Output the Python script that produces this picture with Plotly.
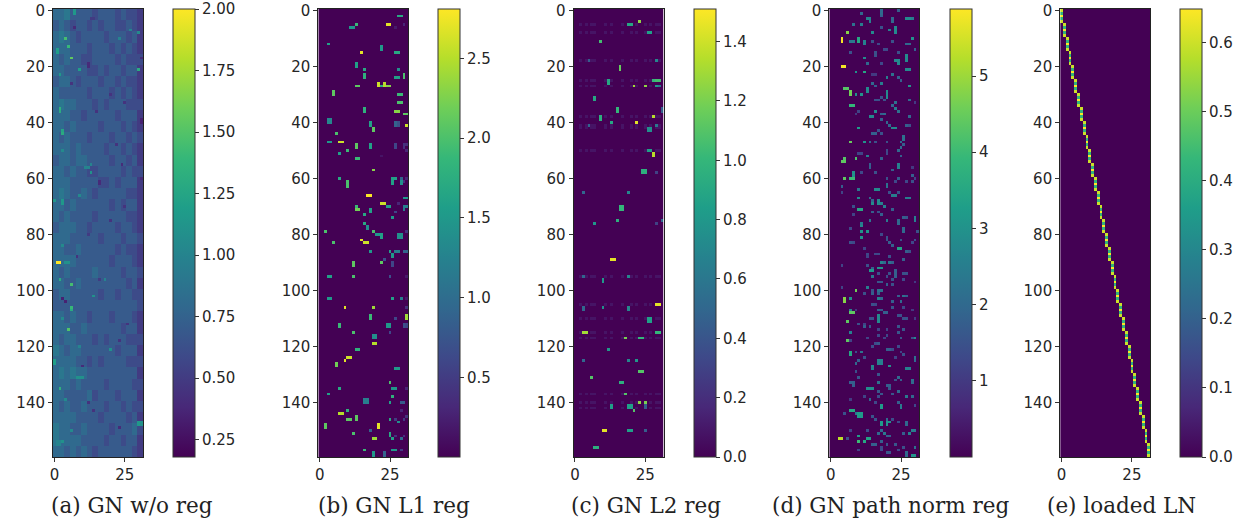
import plotly.graph_objects as go

W, H = 1255, 523
N_ROWS, N_COLS = 160, 32

# Panel (a): coarse read-off, each entry = mean of a 4x2 cell block, in tenths
A_BLOCKS = [
 [8,8,9,7,7,7,7,6,7,7,7,6,7,6,6,5],
 [7,8,7,6,7,7,6,7,6,7,7,6,6,7,6,5],
 [8,9,8,7,6,7,7,7,7,6,7,7,7,6,7,5],
 [8,8,8,7,7,7,6,7,7,7,6,7,6,7,6,5],
 [8,7,8,7,7,6,6,7,7,7,7,6,7,6,6,6],
 [8,8,7,7,7,7,6,6,7,6,7,7,6,7,7,5],
 [7,8,8,7,6,7,7,7,6,7,7,6,7,6,6,5],
 [8,7,7,7,7,7,6,7,7,7,6,7,6,7,6,5],
 [8,9,8,8,7,7,7,6,7,6,7,7,7,6,6,6],
 [8,8,8,7,7,6,7,7,7,7,7,6,7,7,7,5],
 [8,8,7,8,7,7,7,7,6,7,7,7,6,7,6,5],
 [8,7,8,7,7,7,6,7,7,7,6,7,7,6,7,6],
 [8,8,8,7,8,7,7,7,7,6,7,7,6,7,6,5],
 [7,8,8,7,8,8,7,7,7,7,6,7,7,6,7,5],
 [8,8,7,8,7,7,6,6,7,7,7,7,6,7,6,6],
 [8,8,8,7,7,7,7,7,6,6,7,6,7,7,7,5],
 [8,9,8,7,7,8,7,6,7,7,7,7,7,6,6,5],
 [8,8,7,8,7,7,7,7,7,7,6,7,6,7,7,5],
 [8,7,8,7,7,7,7,6,7,7,7,7,7,6,6,5],
 [7,8,8,8,7,7,6,7,7,7,7,6,7,7,6,5],
 [8,8,8,7,7,7,7,7,6,7,7,7,6,7,7,6],
 [8,8,7,7,8,7,7,7,7,7,7,6,7,6,6,5],
 [8,8,8,8,7,7,7,7,7,7,6,7,7,7,6,5],
 [8,7,8,7,7,7,7,8,7,7,7,7,6,7,7,6],
 [8,8,7,7,8,7,7,7,7,7,7,7,7,6,7,5],
 [7,8,8,7,7,7,7,7,6,7,7,6,7,7,6,6],
 [7,7,7,7,7,7,7,7,7,7,7,7,7,7,7,6],
 [8,8,7,8,7,7,6,7,7,7,6,7,7,7,6,5],
 [8,8,8,7,7,8,7,7,7,7,7,7,6,7,7,5],
 [8,7,8,8,7,7,7,6,7,6,7,7,7,6,6,6],
 [9,8,7,8,8,7,7,7,7,7,7,6,7,7,7,5],
 [8,8,8,8,7,7,6,7,6,7,7,7,7,6,6,6],
 [8,9,8,9,8,8,7,7,7,7,7,7,7,7,7,5],
 [8,8,8,7,8,7,7,7,7,6,7,7,7,7,6,6],
 [8,8,7,7,7,7,8,6,7,7,7,6,7,7,7,5],
 [8,7,8,7,7,8,7,7,7,6,7,7,6,7,6,6],
 [8,8,8,8,7,7,7,7,6,7,7,7,7,6,7,5],
 [9,8,8,7,7,8,7,7,7,7,6,7,7,7,8,6],
 [9,8,8,8,8,7,7,7,7,6,7,7,6,7,7,5],
 [8,8,7,8,7,8,7,6,7,7,7,7,7,7,6,5],
]
A_CELLS = [(90,1,2.0),(90,2,2.0),(10,4,1.45),(13,5,1.4),(17,6,1.55),(21,30,1.3),(35,2,1.35),(36,2,1.3),
 (44,3,1.3),(43,3,1.25),(0,7,1.15),(1,7,1.15),(14,1,1.2),(15,1,1.2),(23,2,1.15),(8,30,1.05),(7,27,1.0),(10,23,1.0),
 (68,0,1.15),(68,3,1.15),(69,3,1.15),(56,11,1.0),(56,12,1.0),(55,13,1.0),(58,13,1.1),(21,9,1.2),
 (6,7,.4),(19,12,.4),(20,12,.4),(61,16,.4),(62,16,.4),(55,24,.4),(17,31,.4),(39,31,.35),(40,31,.35),(60,31,.4),
 (36,15,.45),(48,22,.45),(3,13,.5),(3,14,.5),
 (90,4,1.1),(90,5,1.1),(96,2,1.3),(98,6,1.45),(106,6,1.4),(107,6,1.3),(114,5,1.5),(135,2,1.35),(125,0,1.2),(126,0,1.2),
 (103,3,.35),(104,4,.35),(131,8,1.1),(131,9,1.1),(131,10,1.1),(147,30,1.15),(148,30,1.15),(147,31,1.1),(148,31,1.1),
 (154,1,1.0),(155,1,1.0),(154,2,1.0),(155,2,1.0),(154,3,1.1),(102,14,1.1),(96,18,1.0),(121,20,1.1),(120,9,1.0),
 (127,10,.4),(149,23,.4),(143,14,.45),(96,16,.5),(80,12,.5),(75,20,.45),(112,26,.45),(88,8,.45),(30,20,.45),(26,6,.45),
 (33,25,.45),(70,25,.45),(140,12,.45),(118,23,.45),(50,3,1.05),(66,9,1.05),(84,3,1.05),(110,3,1.05),(139,4,1.05),(150,6,1.05)]

B_CELLS = [(2,28,1.7),(2,29,1.7),(5,24,2.7),(5,25,2.7),(5,30,.3),(6,11,1.5),(6,12,1.5),(5,13,1.9),(6,27,.2),
 (12,3,1.6),(15,15,2.7),(13,22,1.5),(14,22,1.5),(15,27,1.7),(15,28,1.7),(19,13,1.6),(20,13,1.6),
 (21,16,1.7),(23,16,1.8),(24,16,1.8),(21,28,1.4),(24,27,1.6),(24,28,1.6),(23,30,2.0),(24,30,2.0),
 (26,21,2.6),(27,21,2.6),(26,23,2.5),(27,23,2.5),(27,22,1.8),(27,24,2.3),(27,25,2.3),(27,14,2.1),(27,13,2.1),
 (29,5,2.1),(30,5,2.1),(30,28,1.9),(30,29,1.9),(33,28,2.0),(33,29,2.0),(35,16,1.8),(36,16,1.8),
 (36,27,2.3),(36,28,2.3),(37,30,2.1),(37,31,2.1),(41,31,2.6),
 (39,4,1.3),(40,4,1.3),(39,3,1.3),(40,3,1.3),(41,18,1.6),(40,18,1.6),(42,19,2.1),(43,19,2.1),
 (40,27,.9),(41,27,.9),(40,28,.7),(41,28,.7),(44,6,2.0),(47,3,1.5),(47,4,1.5),(47,8,2.6),(47,7,2.6),
 (48,13,2.1),(49,13,2.1),(48,18,1.6),(49,18,1.6),(50,10,1.9),(51,7,1.6),(53,14,1.9),(53,13,1.9),
 (48,27,.6),(49,27,.6),(48,30,.4),(49,30,.4),(48,31,.35),(50,31,.3),(52,22,.15),
 (57,19,2.3),(60,7,1.7),(61,10,2.0),(62,10,2.0),(63,10,2.0),(60,26,1.6),(60,27,1.6),(60,29,.9),(60,31,.3),(61,30,.4),
 (61,26,1.6),(62,26,1.6),(62,29,1.4),(61,29,1.4),(66,17,2.8),(66,18,2.8),(67,30,1.5),(67,31,1.5),
 (69,22,2.6),(69,23,2.6),(70,24,1.6),(70,25,1.6),(70,13,1.9),(71,14,2.2),(71,13,2.2),(70,30,1.2),(71,30,1.2),(70,31,1.2),
 (71,18,1.6),(72,18,1.6),(72,27,.6),(73,16,1.7),(74,26,1.5),(76,16,1.7),(77,17,1.4),(78,17,1.4),(69,28,.3),
 (79,2,2.0),(79,19,2.0),(80,20,1.5),(80,21,1.5),(81,22,1.6),(80,22,1.6),(80,28,1.4),(80,29,1.4),(81,28,1.4),(81,29,1.4),(79,31,.4),
 (82,15,2.7),(83,17,2.6),(83,16,2.6),(83,5,2.0),(86,18,1.5),(86,25,1.6),(86,27,1.2),(86,28,1.2),(86,30,.9),(86,31,.9),
 (88,26,1.5),(87,26,1.5),(90,22,2.1),(89,23,.7),(91,26,.6),(90,26,.6),(91,12,2.1),(90,12,2.1),
 (95,4,1.6),(95,3,1.6),(95,12,2.0),(95,25,.7),(95,31,.2),(103,4,1.5),(103,3,1.5),(103,26,1.6),(103,29,1.2),(103,31,.2),
 (106,9,2.7),(106,19,2.4),(106,31,.4),(109,18,1.9),(110,18,1.9),(109,31,2.4),(110,31,2.4),(110,27,.6),
 (112,7,1.9),(113,7,1.9),(112,24,1.5),(113,24,1.5),(112,25,1.5),(113,25,1.5),(112,30,.7),(113,30,.7),(112,31,.6),(113,31,.6),
 (115,12,2.0),(115,25,.6),(116,20,1.4),(117,20,1.4),(116,19,1.4),(117,19,1.4),(119,20,2.5),(119,19,2.5),(121,14,1.8),(121,13,1.8),
 (124,11,2.6),(124,10,2.6),(125,9,2.7),(126,6,2.2),(127,6,2.2),(128,28,1.5),(128,27,1.5),(133,25,2.0),(135,7,1.7),
 (135,27,1.5),(135,26,1.5),(135,31,.3),(137,3,1.6),(138,26,1.8),(139,17,1.2),(140,17,1.2),(139,16,1.2),(140,16,1.2),
 (140,25,1.6),(140,30,.8),(140,29,.8),(143,10,1.8),(144,8,2.5),(144,7,2.5),(145,13,2.1),(146,13,2.1),(146,11,2.1),(146,10,2.1),
 (146,25,1.7),(147,28,1.4),(146,27,.5),(146,30,.5),(145,31,.4),(143,29,.3),(148,2,2.1),(149,2,2.1),(148,21,2.7),(149,21,2.7),
 (151,12,2.0),(150,18,.9),(151,25,1.7),(152,25,1.7),(153,20,2.4),(153,19,2.4),(153,26,1.6),(153,29,1.0),(152,27,.4),(152,30,.4),
 (157,16,1.9),(158,19,1.5),(159,19,1.5),(158,23,.9),(159,23,.9),(157,27,1.5),(157,26,1.5),(157,29,.5)]

C_BAND_ROWS = [5,8,18,25,27,38,41,42,50,95,105,110,115,117,137,140,142]
C_BAND_COLS = [2,4,6,7,11,13,17,20,22,25,27,29,30]
C_CELLS = [(5,20,.9),(5,19,.9),(4,23,1.25),(8,26,.85),(8,27,.85),(11,9,1.05),(18,5,.45),(18,29,.7),(20,16,1.15),(21,16,1.15),
 (25,29,1.05),(25,30,1.05),(25,28,1.0),(26,12,.9),(25,12,.9),(27,21,1.3),(27,25,1.25),(27,29,.8),(27,30,.6),(32,7,.9),(31,7,.9),
 (36,15,1.0),(35,15,1.0),(36,31,.45),(35,31,.45),(38,28,1.35),(39,9,.95),(38,9,.95),(40,13,.9),(40,22,1.45),(41,5,.5),(41,29,.6),
 (42,26,.75),(42,27,.75),(43,26,.75),(43,27,.75),(50,26,.85),(50,27,.85),(51,28,1.35),(52,28,1.35),(58,24,.95),(58,25,.95),(57,24,.95),(57,25,.95),
 (58,29,.3),(65,3,.5),(65,19,.7),(71,17,1.0),(71,16,1.0),(70,17,1.0),(70,16,1.0),(75,15,.95),(75,31,.5),(76,7,.8),(76,29,.3),
 (89,13,1.45),(89,14,1.45),(95,3,.5),(95,19,.7),(96,10,.8),(97,10,.8),(105,30,1.45),(105,29,1.45),(106,10,.75),(106,3,.5),(107,3,.5),
 (106,19,.7),(107,19,.7),(110,26,.85),(110,27,.85),(111,26,.85),(111,27,.85),(115,4,1.3),(115,3,1.3),(115,29,1.0),(115,30,1.0),
 (117,18,1.2),(117,24,1.0),(117,23,1.0),(121,12,.8),(125,3,.5),(125,19,.7),(125,22,.8),(131,6,1.1),(129,24,1.1),(129,23,1.1),
 (133,17,.95),(133,16,.95),(137,18,1.1),(140,23,1.25),(140,25,1.2),(141,13,.85),(142,13,.85),(141,20,.85),(142,20,.85),(141,19,.85),(142,19,.85),
 (143,21,1.1),(141,25,.45),(142,25,.45),(150,11,1.45),(150,10,1.45),(150,20,.85),(150,19,.85),(150,25,.45),(156,8,.95),(156,7,.95)]

D_CELLS = [(10,4,5.8),(11,4,5.8),(20,4,5.8),(20,5,5.8),(8,6,4.8),(28,5,4.3),(28,6,4.3),(29,7,4.6),(30,7,4.6),(34,8,3.9),(34,7,3.9),
 (47,7,4.5),(54,4,4.4),(54,5,4.4),(53,5,4.3),(53,9,4.2),(60,5,4.4),(58,8,3.0),(59,8,3.0),(60,8,4.0),(60,7,4.0),
 (1,11,2.0),(0,18,2.0),(1,18,2.0),(2,18,1.8),(0,24,1.8),(3,14,2.6),(4,14,2.6),(3,13,2.6),(3,22,2.0),(4,22,2.0),(3,27,2.8),(3,28,2.8),(3,29,2.5),
 (5,8,2.2),(5,11,2.5),(6,18,1.5),(6,23,2.8),(7,23,2.8),(8,23,2.8),(7,21,2.6),(8,15,2.8),(10,10,3.5),(11,10,3.5),(11,8,2.4),(11,7,2.4),
 (11,12,2.6),(12,12,2.6),(10,29,3.0),(11,22,1.5),(12,28,2.0),(12,27,2.0),(11,15,1.5),(12,17,1.3),(15,7,1.5),(15,16,1.5),(14,20,1.3),(14,19,1.3),
 (15,24,1.5),(14,30,1.8),(16,27,2.8),(17,27,2.8),(18,27,2.8),(17,12,2.8),(16,16,1.5),(18,23,2.8),(18,24,2.8),(19,24,2.8),(19,13,2.0),(19,18,1.3),
 (21,27,2.8),(21,28,2.8),(22,12,3.5),(22,9,3.0),(23,15,1.0),(23,16,1.0),(24,20,2.5),(23,22,2.2),(24,24,1.8),(25,25,1.8),(26,18,2.5),(26,15,2.0),
 (27,28,3.0),(28,13,2.8),(29,13,2.8),(29,20,2.8),(30,20,2.8),(31,20,2.8),(30,9,3.0),(30,11,3.0),(27,16,1.8),(32,28,2.0),(31,18,1.5),(32,16,1.5),(32,17,1.5),(32,19,1.5),
 (33,23,2.2),(34,22,2.0),(35,23,2.5),(36,16,2.8),(36,24,2.2),(37,19,2.0),(38,14,2.8),(38,15,2.8),(37,18,1.8),(39,18,1.8),(38,28,2.0),(37,9,1.0),(36,10,1.2),(33,30,1.0),
 (40,20,2.0),(41,21,2.0),(42,10,3.2),(42,22,2.8),(42,23,2.8),(41,27,1.8),(41,28,1.5),(44,15,1.8),(44,16,1.8),(43,17,1.5),(44,18,1.5),(45,26,2.2),(46,26,2.2),(47,25,2.0),
 (47,12,3.0),(47,14,2.0),(47,16,1.5),(47,20,1.5),(48,26,1.8),(49,25,2.0),(50,24,2.0),(50,20,1.3),(51,20,1.3),(51,10,1.2),(51,11,1.2),(52,13,2.5),(52,25,1.8),(53,18,1.8),
 (55,14,1.8),(56,14,1.8),(55,24,2.6),(56,24,2.6),(56,29,1.0),(58,11,1.3),(58,16,1.5),(57,22,1.8),(60,20,1.5),(60,24,1.8),(61,23,1.3),(61,27,1.3),(59,29,1.8),(60,30,1.2),(61,29,1.5),
 (62,20,2.2),(63,20,2.2),(63,4,1.8),(65,4,1.2),(64,10,2.3),(64,16,2.8),(64,17,2.8),(65,21,1.5),(65,24,1.5),(66,22,2.5),(66,23,2.5),(67,10,2.8),(67,14,2.0),(67,27,2.5),(67,28,2.5),
 (68,15,2.0),(69,15,2.8),(68,17,2.8),(69,17,2.8),(69,18,2.6),(70,19,2.6),(71,11,3.5),(71,10,3.5),(72,15,1.8),(72,17,1.5),(73,18,1.8),(71,22,1.8),(70,8,1.5),(73,8,1.2),
 (75,20,2.4),(75,24,2.0),(76,24,2.0),(74,26,1.8),(74,30,2.6),(75,30,2.6),(74,27,1.6),(75,14,2.3),(76,11,2.5),(77,11,2.8),(78,7,1.3),(79,11,3.0),(79,13,3.0),(78,26,2.0),(79,26,2.0),(79,31,1.5),
 (81,11,3.0),(80,18,1.3),(81,20,1.5),(82,20,1.5),(83,21,1.8),(83,7,1.5),(83,8,1.3),(82,25,1.5),(83,29,1.3),(82,30,1.5),(85,24,3.4),(85,25,3.4),(85,12,1.2),(84,22,1.8),(86,27,1.8),(86,28,1.5),
 (87,13,1.3),(87,16,1.3),(87,17,1.3),(88,13,1.2),(88,21,1.5),(89,26,1.8),(90,18,2.6),(90,19,2.0),(90,21,2.2),(91,4,1.2),(90,22,1.8),(91,13,1.5),(92,15,1.8),(92,17,3.0),(92,18,3.0),
 (93,14,3.2),(93,15,3.2),(94,17,1.5),(94,21,1.5),(93,23,1.8),(94,23,1.8),(95,23,1.8),(94,26,1.5),(94,27,1.5),(95,15,2.4),(95,20,1.4),(96,22,1.5),(96,26,1.3),(97,17,1.6),(97,18,1.6),(97,30,1.0),
 (98,20,1.8),(98,22,1.5),(99,13,2.5),(99,4,1.2),(100,15,1.6),(100,17,2.2),(100,18,2.2),(100,9,4.6),(101,15,1.8),(101,12,1.5),(101,17,1.8),(102,24,1.8),(102,26,2.2),(103,17,2.6),(103,18,2.0),(102,27,1.8),
 (103,5,4.8),(104,5,4.8),(103,7,3.0),(104,25,2.0),(104,22,1.8),(105,15,1.5),(105,16,1.3),(106,22,1.6),(106,26,1.3),(107,9,1.0),(107,29,1.0),(107,7,2.6),(107,17,1.8),(107,18,1.6),
 (108,8,4.4),(108,7,4.4),(108,19,1.8),(108,20,1.8),(109,24,1.5),(109,25,1.5),(110,15,1.5),(110,14,1.5),(109,17,2.8),(110,17,2.8),(111,17,2.8),(110,26,1.5),(110,27,1.5),(110,30,1.0),(111,6,4.4),
 (112,10,1.5),(112,12,1.2),(113,14,1.6),(113,12,1.8),(113,24,1.6),(114,20,1.2),(114,17,1.2),(114,26,1.6),(115,7,2.6),(115,24,1.6),(116,17,1.3),(116,20,1.3),(117,13,1.2),(117,19,1.2),(117,25,1.6),
 (117,30,2.8),(117,29,1.5),(118,6,4.4),(118,7,1.2),(119,17,1.6),(119,16,1.4),(120,15,1.4),(120,24,1.4),(121,20,1.8),(121,21,1.8),(121,22,1.4),(122,7,3.5),(123,7,3.5),(122,9,1.5),(122,11,2.2),(123,26,1.5),
 (122,25,1.2),(124,12,1.5),(124,23,1.2),(124,30,2.2),(125,30,2.0),(125,17,2.6),(125,18,2.6),(126,17,2.6),(126,18,2.6),(125,10,1.8),(126,9,2.0),(127,15,2.8),(127,21,3.0),(128,15,2.6),(129,9,1.5),(128,27,2.6),(128,28,2.6),
 (130,17,1.6),(131,10,1.6),(131,24,2.0),(132,23,1.5),(132,25,1.8),(132,29,2.2),(133,29,2.0),(133,7,1.8),(133,8,1.8),(134,8,1.8),(133,17,2.2),(134,20,1.8),(134,21,1.8),(135,21,1.6),
 (135,13,2.9),(135,14,2.9),(135,15,2.9),(136,17,1.6),(136,24,2.0),(137,18,1.6),(137,22,1.6),(138,12,1.2),(138,17,1.4),(138,27,2.4),(138,29,2.0),(139,14,2.0),(139,7,1.0),(140,16,1.3),(140,24,1.8),(141,18,3.2),(142,18,3.2),
 (141,25,2.4),(142,25,2.6),(141,30,1.3),(143,8,3.5),(143,7,3.5),(144,11,3.2),(145,11,3.2),(144,10,3.2),(145,10,3.2),(144,9,2.5),(144,5,1.5),(145,15,1.6),(146,16,1.6),(146,20,2.0),(146,22,1.4),(147,18,3.2),(148,18,3.2),(147,20,3.0),(148,20,3.0),(147,21,3.0),
 (147,27,2.0),(148,27,2.0),(147,24,1.3),(150,7,1.2),(150,13,1.4),(150,18,2.0),(151,19,2.4),(151,17,2.0),(152,21,1.8),(152,20,1.8),(151,26,1.8),(150,29,2.5),(150,30,2.4),(151,28,2.6),
 (152,10,3.3),(153,4,5.3),(153,3,5.3),(153,6,1.5),(153,14,3.4),(153,13,3.4),(154,10,4.0),(154,12,3.5),(155,15,1.8),(155,16,1.8),(155,20,1.6),(155,23,1.6),(154,18,1.8),(156,18,1.3),(156,26,1.5),(156,30,2.2),
 (157,10,1.2),(157,18,1.4),(157,24,1.3),(158,20,1.6),(158,21,1.6),(158,27,2.0),(159,27,2.0),(159,30,3.0),(159,29,3.0)]

E_PATTERN = [0.6, 0.42, 0.65, 0.42, 0.6]
E_STEP_COLS = list(range(32))

ZRANGES = [(0.18, 2.0), (0.0, 2.81), (0.0, 1.51), (0.0, 5.88), (0.0, 0.649)]
TICKS = [[0.25,0.5,0.75,1.0,1.25,1.5,1.75,2.0],[0.5,1.0,1.5,2.0,2.5],[0.0,0.2,0.4,0.6,0.8,1.0,1.2,1.4],
         [1,2,3,4,5],[0.0,0.1,0.2,0.3,0.4,0.5,0.6]]
TICKTEXT = [["0.25","0.50","0.75","1.00","1.25","1.50","1.75","2.00"],["0.5","1.0","1.5","2.0","2.5"],
            ["0.0","0.2","0.4","0.6","0.8","1.0","1.2","1.4"],["1","2","3","4","5"],
            ["0.0","0.1","0.2","0.3","0.4","0.5","0.6"]]
CAPTIONS = ["(a) GN w/o reg","(b) GN L1 reg","(c) GN L2 reg","(d) GN path norm reg","(e) loaded LN"]
CAPTION_X = [132, 394, 646, 890, 1121]
AX_LEFT = [53, 318.3, 573.5, 829.3, 1060.2]
CB_LEFT = [173, 438.3, 694, 949.7, 1180.3]
AX_W, CB_W, TOP, BOTTOM = 90, 21.7, 9, 457

def blank(fill=0.0):
    return [[fill]*N_COLS for _ in range(N_ROWS)]
def put(z, cells):
    for r, c, v in cells:
        z[r][c] = v
    return z

za = blank()
for i, row in enumerate(A_BLOCKS):
    for j, v in enumerate(row):
        for r in range(4):
            for c in range(2):
                za[i*4+r][j*2+c] = v/10
put(za, A_CELLS)
zb = put(blank(), B_CELLS)
zc = blank()
for r in C_BAND_ROWS:
    for c in C_BAND_COLS:
        zc[r][c] = 0.08
put(zc, C_CELLS)
zd = put(blank(), D_CELLS)
ze = blank()
for c in E_STEP_COLS:
    for k, v in enumerate(E_PATTERN):
        ze[c*5+k][c] = v
Z = [za, zb, zc, zd, ze]

FONT = dict(family="DejaVu Sans", size=15, color="#262626")
fig = go.Figure()
layout = dict(width=W, height=H, margin=dict(l=0,r=0,t=0,b=0,autoexpand=False), paper_bgcolor="white", plot_bgcolor="white",
              showlegend=False, annotations=[])
ydom = [1-BOTTOM/H, 1-TOP/H]
for i in range(5):
    n = "" if i == 0 else str(i+1)
    fig.add_trace(go.Heatmap(z=Z[i], x=list(range(N_COLS)), y=list(range(N_ROWS)),
        xaxis="x"+n, yaxis="y"+n, colorscale="Viridis", zmin=ZRANGES[i][0], zmax=ZRANGES[i][1], hoverongaps=False,
        colorbar=dict(x=CB_LEFT[i]/W, xanchor="left", xref="paper", y=ydom[0], yanchor="bottom", yref="paper",
                      len=ydom[1]-ydom[0], lenmode="fraction", thickness=CB_W, thicknessmode="pixels",
                      outlinecolor="#333333", outlinewidth=1, ticks="outside", ticklen=4, tickcolor="#333333",
                      tickvals=TICKS[i], ticktext=TICKTEXT[i], tickfont=FONT, xpad=0, ypad=0)))
    layout["xaxis"+n] = dict(domain=[AX_LEFT[i]/W,(AX_LEFT[i]+AX_W)/W], range=[-0.5,31.5], tickvals=[0,25],
        ticks="outside", ticklen=4, tickcolor="#333333", showgrid=False, zeroline=False, showline=True, mirror=True,
        linecolor="#222222", linewidth=1, tickfont=FONT, anchor="y"+n)
    layout["yaxis"+n] = dict(domain=ydom, range=[159.5,-0.5], tickvals=[0,20,40,60,80,100,120,140],
        ticks="outside", ticklen=4, tickcolor="#333333", showgrid=False, zeroline=False, showline=True, mirror=True,
        linecolor="#222222", linewidth=1, tickfont=FONT, anchor="x"+n)
    layout["annotations"].append(dict(text=CAPTIONS[i], x=CAPTION_X[i]/W, y=1-505/H, xref="paper", yref="paper",
        xanchor="center", yanchor="middle", showarrow=False,
        font=dict(family="DejaVu Serif", size=21.5, color="#222222")))
fig.update_layout(**layout)
fig.write_html("out.html", config=dict(displayModeBar=False), post_script="document.body.style.margin='0';")
